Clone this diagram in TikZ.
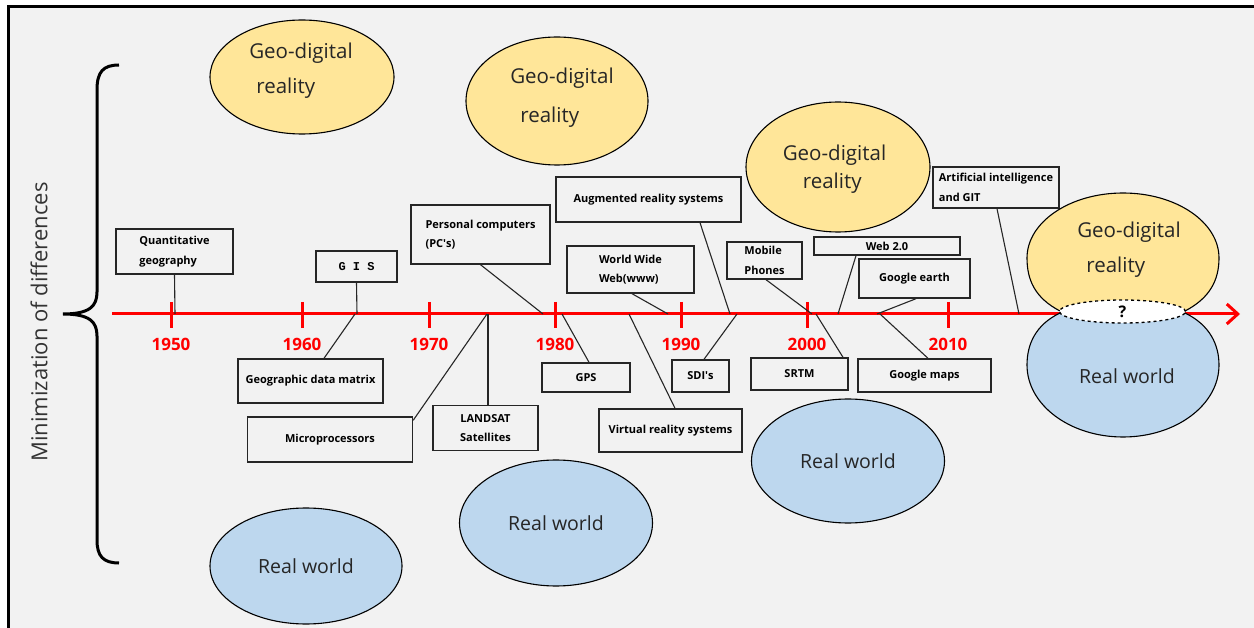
\documentclass[tikz,border=0pt]{standalone}
\usepackage{fontspec}
\setmainfont{Open Sans}
\newfontfamily\gisfont{Liberation Mono}
\usetikzlibrary{arrows.meta, shapes.geometric, calc}

\definecolor{bgGrey}{HTML}{F2F2F2}
\definecolor{geoYellow}{HTML}{FFE699}
\definecolor{realBlue}{HTML}{BDD7EE}
\definecolor{yearRed}{HTML}{FF0000}

\tikzset{
  event/.style={draw=black!85, line width=1.4pt, inner sep=0pt, align=center,
    font=\fontsize{11}{19.5}\selectfont\bfseries},
  geo/.style={ellipse, draw, line width=1.1pt, fill=geoYellow, inner sep=0pt},
  real/.style={ellipse, draw, line width=1.1pt, fill=realBlue, inner sep=0pt,
    text=black!85, font=\fontsize{19.5}{24}\selectfont},
  geotext/.style={align=left, inner sep=0pt, text=black!85,
    font=\fontsize{20.5}{25}\selectfont},
  year/.style={text=yearRed, font=\fontsize{17}{20}\selectfont\bfseries},
  link/.style={draw=black!85, line width=1.1pt},
}

\begin{document}
\begin{tikzpicture}[x=1pt, y=-1pt]
  % background and frame
  \fill[bgGrey] (0,0) rectangle (1254,628);
  \useasboundingbox (0,0) rectangle (1254,628);
  \fill[white] (0,0) rectangle (1254,5);
  \fill[white] (0,0) rectangle (7,628);
  \draw[line width=3pt] (8.5,628) -- (8.5,6.5) -- (1254,6.5);

  % brace and side label
  \draw[line width=3pt] (119,65) .. controls (103,65) and (97,72) .. (97,90)
    -- (97,292) .. controls (97,306) and (90,314) .. (63,314)
    .. controls (90,314) and (97,322) .. (97,336)
    -- (97,540) .. controls (97,556) and (103,563) .. (119,563);
  \node[rotate=90, text=black!80, font=\fontsize{22}{26}\selectfont] (mindiff)
    at (39,322) {Minimization of differences};

  % time axis
  \draw[yearRed, line width=3pt, -{Straight Barb[length=11pt, width=20pt]}]
    (112,314) -- (1240,314);
  \foreach \yr/\x in {1950/171, 1960/302, 1970/429, 1980/555, 1990/681, 2000/807, 2010/948} {
    \draw[yearRed, line width=3pt] (\x,302) -- (\x,328);
    \node[year] (y\yr) at (\x,344) {\yr};
  }
  \foreach \n/\x in {quant/175, gis/357, gdm/355, micro/487, landsat/488, pc/543,
      gps/562, ar/730, www/668, vr/629, sdi/737, mob/812, srtm/816, web/838,
      ge/877, gm/880, ai/1019}
    \coordinate (on-\n) at (\x,314);

  % events
  \node[event, align=left, minimum width=117pt, minimum height=45pt] (quant) at (174.5,251.5) {Quantitative\\geography};
  \node[event, minimum width=81pt, minimum height=31pt] (gis) at (356.5,266.5) {\raisebox{-4pt}{\gisfont\bfseries\fontsize{12}{14}\selectfont G I S}};
  \node[event, minimum width=145pt, minimum height=44pt] (gdm) at (310.5,381) {Geographic data matrix};
  \node[event, minimum width=165pt, minimum height=45pt] (micro) at (330,439.5) {Microprocessors};
  \node[event, minimum width=105pt, minimum height=45pt] (landsat) at (485.5,428) {LANDSAT\\Satellites};
  \node[event, align=left, minimum width=139pt, minimum height=59pt] (pc) at (480.5,234.5) {Personal computers\\(PC\textquotesingle s)};
  \node[event, minimum width=88pt, minimum height=29pt] (gps) at (586,377.5) {GPS};
  \node[event, minimum width=185pt, minimum height=45pt] (ar) at (648.5,199.5) {Augmented reality systems};
  \node[event, align=left, minimum width=127pt, minimum height=47pt] (www) at (630.5,269.5) {World Wide\\Web(www)};
  \node[event, minimum width=143pt, minimum height=43pt] (vr) at (670.5,430.5) {Virtual reality systems};
  \node[event, minimum width=57pt, minimum height=32pt] (sdi) at (700.5,376) {SDI\textquotesingle s};
  \node[event, align=left, minimum width=75pt, minimum height=37pt] (mob) at (764.5,260.5) {Mobile\\Phones};
  \node[event, minimum width=97pt, minimum height=32pt] (srtm) at (799.5,374) {SRTM};
  \node[event, minimum width=146pt, minimum height=18pt] (web) at (887,246) {Web 2.0};
  \node[event, minimum width=111pt, minimum height=39pt] (ge) at (914.5,278.5) {Google earth};
  \node[event, minimum width=133pt, minimum height=33pt] (gm) at (924.5,375.5) {Google maps};
  \node[event, align=left, minimum width=126pt, minimum height=41pt] (ai) at (996,187.5) {Artificial intelligence\\and GIT};

  % links to the axis
  \draw[link] (quant.south) -- (on-quant);
  \draw[link] (gis.south) -- (on-gis);
  \draw[link] ($(gdm.north)+(13.5,0)$) -- (on-gdm);
  \draw[link] ($(micro.north east)+(0,4)$) -- (on-micro);
  \draw[link] ($(landsat.north)+(2.5,0)$) -- (on-landsat);
  \draw[link] (pc.south) -- (on-pc);
  \draw[link] ($(gps.north)+(3,0)$) -- (on-gps);
  \draw[link] ($(ar.south)+(51.5,0)$) -- (on-ar);
  \draw[link] ($(www.south)+(1.5,0)$) -- (on-www);
  \draw[link] ($(vr.north)+(4.5,0)$) -- (on-vr);
  \draw[link] ($(sdi.north)+(3.5,0)$) -- (on-sdi);
  \draw[link] ($(mob.south)+(1.5,0)$) -- (on-mob);
  \draw[link] ($(srtm.north)+(43.5,0)$) -- (on-srtm);
  \draw[link] ($(web.south)+(-31,0)$) -- (on-web);
  \draw[link] ($(ge.south)+(1.5,0)$) -- (on-ge);
  \draw[link] ($(gm.north)+(3.5,0)$) -- (on-gm);
  \draw[link] ($(ai.south)+(1,0)$) -- (on-ai);

  % geo-digital and real world
  \node[geo, minimum width=184pt, minimum height=114pt] (g1) at (302,77) {};
  \node[geotext] (g1t) at (301,70.5) {Geo-digital\\[10pt]\hspace*{7pt}reality};
  \node[geo, minimum width=182pt, minimum height=128pt] (g2) at (557,101) {};
  \node[geotext] (g2t) at (562,97.5) {Geo-digital\\[14pt]\hspace*{10pt}reality};
  \node[geo, minimum width=184pt, minimum height=130pt] (g3) at (838,167) {};
  \node[geotext] (g3t) at (834.5,169) {Geo-digital\\[3pt]\hspace*{20pt}reality};

  \node[real, minimum width=192pt, minimum height=116pt] (r1) at (306,566) {Real world};
  \node[real, minimum width=193pt, minimum height=126pt] (r2) at (556,523) {Real world};
  \node[real, minimum width=193pt, minimum height=124pt] (r3) at (848,461) {Real world};

  % today: both realities meet
  \draw[line width=1.1pt, fill=geoYellow] (1060,311) .. controls (1035,298) and (1027,280) .. (1027,258)
    .. controls (1027,222) and (1070,193) .. (1123,193)
    .. controls (1176,193) and (1219,222) .. (1219,258)
    .. controls (1219,280) and (1210,298) .. (1185,311) -- cycle;
  \draw[line width=1.1pt, fill=realBlue] (1060,313) .. controls (1035,325) and (1027,345) .. (1027,365)
    .. controls (1027,405) and (1070,437) .. (1123,437)
    .. controls (1176,437) and (1219,405) .. (1219,365)
    .. controls (1219,345) and (1210,325) .. (1185,313) -- cycle;
  \node[geotext] (g4t) at (1129,249.5) {Geo-digital\\[10pt]\hspace*{9pt}reality};
  \node[text=black!85, font=\fontsize{19.5}{24}\selectfont] (r4t) at (1127,376) {Real world};
  \node[ellipse, draw, dashed, line width=1.3pt, fill=white, inner sep=0pt,
    minimum width=126pt, minimum height=23pt, font=\fontsize{16}{18}\selectfont\bfseries] (q)
    at (1122.5,311.5) {?};
\end{tikzpicture}
\end{document}
